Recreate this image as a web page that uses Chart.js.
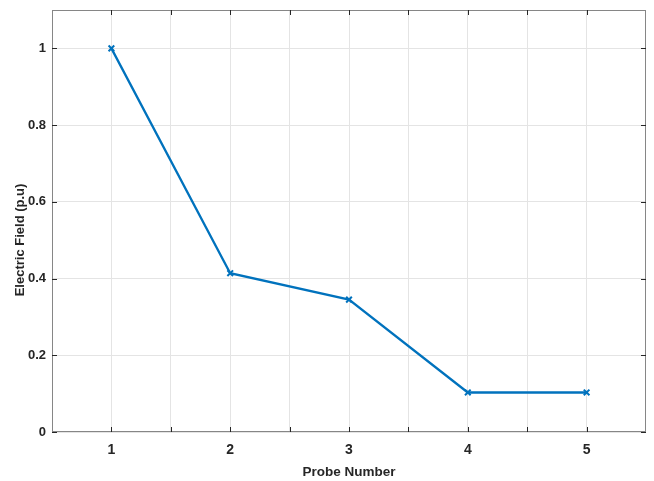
<!DOCTYPE html>
<html>
<head>
<meta charset="utf-8">
<script src="https://cdn.jsdelivr.net/npm/chart.js@4/dist/chart.umd.min.js"></script>
<style>
  html, body { margin: 0; padding: 0; background: #ffffff; }
  #wrap { width: 654px; height: 481px; position: relative; }
</style>
</head>
<body>
<div id="wrap"><canvas id="chart" width="654" height="481"></canvas></div>
<script>
// Probe positions and the normalised electric field measured at each
const probeNumbers = [1, 2, 3, 4, 5];
const fieldPU = [1.0, 0.414, 0.345, 0.103, 0.103];

// Tick positions for both axes
const xTickValues = [1, 1.5, 2, 2.5, 3, 3.5, 4, 4.5, 5];
const yTickValues = [0, 0.2, 0.4, 0.6, 0.8, 1];

const yTitle = 'Electric Field (p.u)';

const FONT = "'Liberation Sans', Arial, sans-serif";
const AXIS_COLOR = '#262626';
const BOX_COLOR = '#868686';
const GRID_COLOR = '#e4e4e4';
const LINE_COLOR = '#0072BD';

// Box around the plot area with inward-pointing tick marks on all four sides,
// plus the vertical axis title
const boxTicks = {
  id: 'boxTicks',
  afterDraw(chart) {
    const { ctx, chartArea: a, scales: { x, y } } = chart;
    const len = 5;
    ctx.save();
    ctx.lineWidth = 1;
    ctx.strokeStyle = BOX_COLOR;
    ctx.strokeRect(Math.round(a.left) + 0.5, Math.round(a.top) + 0.5,
                   Math.round(a.right - a.left) - 1, Math.round(a.bottom - a.top) - 1);
    ctx.strokeStyle = AXIS_COLOR;
    ctx.beginPath();
    xTickValues.forEach(v => {
      const px = Math.round(x.getPixelForValue(v)) + 0.5;
      ctx.moveTo(px, a.bottom); ctx.lineTo(px, a.bottom - len);
      ctx.moveTo(px, a.top); ctx.lineTo(px, a.top + len);
    });
    yTickValues.forEach(v => {
      const py = Math.round(y.getPixelForValue(v)) + 0.5;
      ctx.moveTo(a.left, py); ctx.lineTo(a.left + len, py);
      ctx.moveTo(a.right, py); ctx.lineTo(a.right - len, py);
    });
    ctx.stroke();

    // vertical axis title, rotated
    ctx.translate(20, 240);
    ctx.rotate(-Math.PI / 2);
    ctx.fillStyle = AXIS_COLOR;
    ctx.font = "bold 13px " + FONT;
    ctx.textAlign = 'center';
    ctx.textBaseline = 'middle';
    ctx.fillText(yTitle, 0, 0);
    ctx.restore();
  }
};

new Chart(document.getElementById('chart'), {
  type: 'line',
  data: {
    datasets: [{
      label: 'Electric Field',
      data: probeNumbers.map((p, i) => ({ x: p, y: fieldPU[i] })),
      borderColor: LINE_COLOR,
      backgroundColor: LINE_COLOR,
      borderWidth: 2.3,
      tension: 0,
      fill: false,
      pointStyle: 'crossRot',
      pointRadius: 4,
      pointBorderWidth: 2,
      pointBorderColor: LINE_COLOR,
      pointHoverRadius: 4
    }]
  },
  options: {
    responsive: false,
    animation: false,
    layout: { padding: { top: 10, right: 8, left: 0, bottom: 0 } },
    plugins: {
      legend: { display: false },
      tooltip: { enabled: false }
    },
    scales: {
      x: {
        type: 'linear',
        min: 0.5,
        max: 5.5,
        afterBuildTicks: s => { s.ticks = xTickValues.map(v => ({ value: v })); },
        afterFit: s => { s.height = 49; s.paddingLeft = 0; s.paddingRight = 0; },
        border: { display: false },
        grid: { color: GRID_COLOR, lineWidth: 1, drawTicks: false },
        ticks: {
          padding: 10,
          color: AXIS_COLOR,
          font: { family: FONT, size: 14, weight: 'bold' },
          maxRotation: 0,
          autoSkip: false,
          callback: v => Number.isInteger(v) ? String(v) : ''
        },
        title: {
          display: true,
          text: 'Probe Number',
          color: AXIS_COLOR,
          font: { family: FONT, size: 13.5, weight: 'bold' },
          padding: { top: 0, bottom: 1 }
        }
      },
      y: {
        type: 'linear',
        min: 0,
        max: 1.1,
        afterBuildTicks: s => { s.ticks = yTickValues.map(v => ({ value: v })); },
        afterFit: s => { s.width = 52; s.paddingTop = 0; s.paddingBottom = 0; },
        border: { display: false },
        grid: { color: GRID_COLOR, lineWidth: 1, drawTicks: false },
        ticks: {
          padding: 6,
          color: AXIS_COLOR,
          font: { family: FONT, size: 13, weight: 'bold' },
          autoSkip: false,
          callback: v => String(Math.round(v * 10) / 10)
        }
      }
    }
  },
  plugins: [boxTicks]
});
</script>
</body>
</html>
